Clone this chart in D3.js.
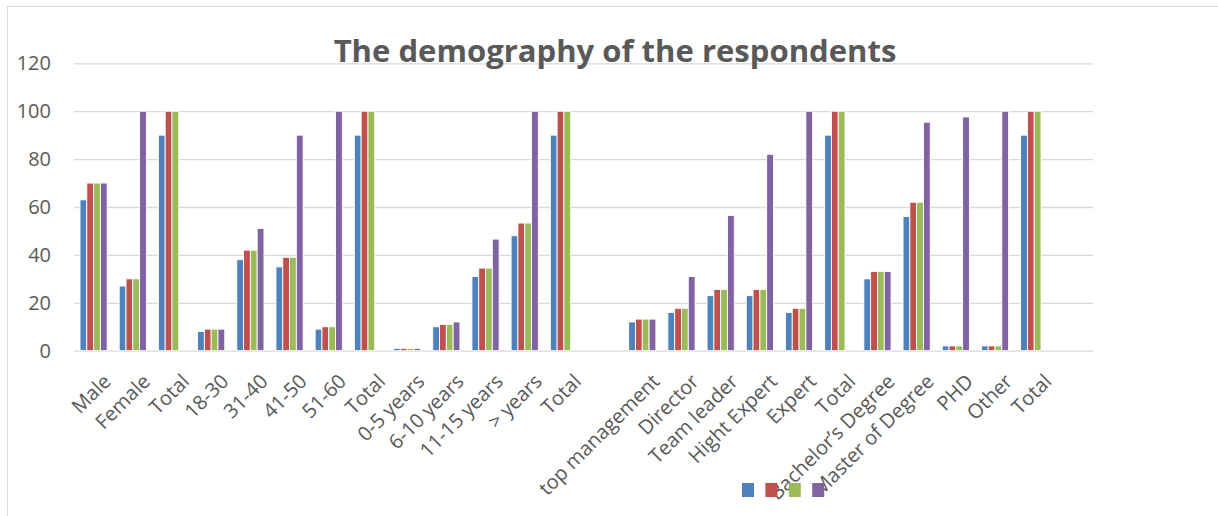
<!DOCTYPE html>
<html lang="en">
  <head>
    <meta charset="UTF-8" />
    <title>The demography of the respondents</title>
    <script src="https://cdn.jsdelivr.net/npm/d3@7"></script>
    <style>
      body {
        margin: 0;
        background: #fff;
      }
      #svgBox {
        width: 1218px;
        height: 516px;
        display: block;
      }
      text {
        font-family: 'Open Sans', 'Noto Sans', sans-serif;
        fill: #595959;
      }
    </style>
  </head>

  <body>
    <svg id="svgBox"></svg>
  </body>
  <script>
    const categories = [
      'Male', 'Female', 'Total', '18-30', '31-40', '41-50', '51-60', 'Total',
      '0-5 years', '6-10 years', '11-15 years', '> years', 'Total', '',
      'top management', 'Director', 'Team leader', 'Hight Expert', 'Expert', 'Total',
      'Bachelor’s Degree', 'Master of Degree', 'PHD', 'Other', 'Total', ''
    ]
    const series1 = [63, 27, 90, 8, 38, 35, 9, 90, 1, 10, 31, 48, 90, null, 12, 16, 23, 23, 16, 90, 30, 56, 2, 2, 90, null]
    const series2 = [70, 30, 100, 9, 42, 39, 10, 100, 1, 11, 34.5, 53.3, 100, null, 13.2, 17.7, 25.6, 25.6, 17.7, 100, 33.1, 62, 2, 2, 100, null]
    const series3 = [70, 30, 100, 9, 42, 39, 10, 100, 1, 11, 34.5, 53.3, 100, null, 13.2, 17.7, 25.6, 25.6, 17.7, 100, 33.1, 62, 2, 2, 100, null]
    const series4 = [70, 100, null, 9, 51, 90, 100, null, 1, 12, 46.6, 100, null, null, 13.2, 31, 56.5, 82, 100, null, 33.1, 95.4, 97.6, 100, null, null]
    const yTicks = [0, 20, 40, 60, 80, 100, 120]
    const colors = ['#4F81BD', '#C0504D', '#9BBB59', '#8064A2']

    const allSeries = [series1, series2, series3, series4]
    const svg = d3.select('#svgBox')
    const margin = { top: 63.3, right: 125, bottom: 165.3, left: 74 }
    const [width, height] = [1218, 516]
    const innerWidth = width - margin.left - margin.right
    const innerHeight = height - margin.top - margin.bottom

    // chart frame (only top and left edges are visible)
    svg.append('path')
      .attr('d', `M7.5 ${height} V6.5 H${width}`)
      .attr('fill', 'none')
      .attr('stroke', '#d9d9d9')

    const x = d3.scaleBand()
      .domain(d3.range(categories.length))
      .range([0, innerWidth])
      .paddingInner(0.306)
      .paddingOuter(0.153)
    const xSub = d3.scaleBand()
      .domain(d3.range(allSeries.length))
      .range([0, x.bandwidth()])
    const y = d3.scaleLinear()
      .domain([0, 120])
      .range([innerHeight, 0])

    const g = svg.append('g')
      .attr('transform', `translate(${margin.left} ${margin.top})`)

    // y axis + gridlines
    const yAxis = g.append('g')
      .call(d3.axisLeft(y).tickValues(yTicks).tickSize(-innerWidth).tickPadding(23))
    yAxis.select('.domain').remove()
    yAxis.selectAll('line').attr('stroke', '#d9d9d9').attr('stroke-width', 1.3)
    yAxis.selectAll('text').style('font-size', '20px').attr('fill', '#595959')

    // bars
    allSeries.forEach((values, s) => {
      g.append('g')
        .selectAll('rect')
        .data(values.map((v, i) => ({ v, i })).filter(d => d.v != null))
        .join('rect')
        .attr('x', d => x(d.i) + xSub(s))
        .attr('y', d => y(d.v))
        .attr('width', xSub.bandwidth())
        .attr('height', d => innerHeight - y(d.v))
        .attr('fill', colors[s])
        .attr('stroke', '#fff')
        .attr('stroke-width', 0.9)
    })

    // x axis, labels slanted 45 degrees
    const lx = x.bandwidth() / 2 + 5
    const ly = 32
    const xAxis = g.append('g')
      .attr('transform', `translate(0 ${innerHeight})`)
      .call(d3.axisBottom(x).tickSize(0).tickFormat(i => categories[i]))
    xAxis.select('.domain').remove()
    xAxis.selectAll('.tick').filter(i => categories[i] === '').remove()
    xAxis.selectAll('text')
      .style('font-size', '20px')
      .attr('fill', '#595959')
      .attr('text-anchor', 'end')
      .attr('dy', null)
      .attr('x', lx)
      .attr('y', ly)
      .attr('transform', `rotate(-45 ${lx} ${ly})`)

    // title, fitted to the width it has in the picture
    const title = svg.append('text')
      .attr('x', 615)
      .attr('y', 62)
      .attr('text-anchor', 'middle')
      .style('font-size', '32px')
      .style('font-weight', 'bold')
      .text('The demography of the respondents')
    const tw = title.node().getComputedTextLength()
    title.style('font-size', `${(32 * 563) / tw}px`)

    // legend (no series names)
    svg.append('g')
      .selectAll('rect')
      .data(colors)
      .join('rect')
      .attr('x', (d, i) => 742 + i * 23.4)
      .attr('y', 483)
      .attr('width', 12)
      .attr('height', 14)
      .attr('fill', d => d)
  </script>
</html>
